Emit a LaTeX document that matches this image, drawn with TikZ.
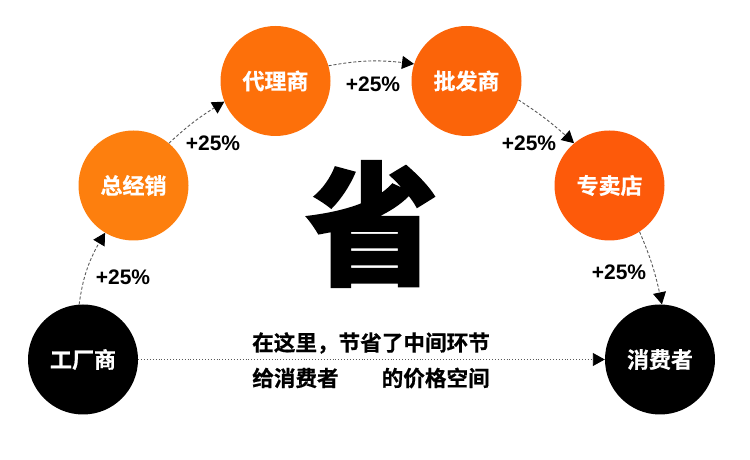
\documentclass[tikz,border=0pt]{standalone}
\usepackage{fontspec}
\usepackage{xcolor}
\usepackage{tikz}
\usetikzlibrary{arrows.meta}
\usetikzlibrary{bending}
\setmainfont{Liberation Sans}
\newfontfamily\cjkheavy{Noto Sans CJK SC Bold}[FakeBold=0.6]
\newfontfamily\cjkblack{Noto Sans CJK SC Black}[FakeBold=1.4]
\definecolor{orangea}{HTML}{FD7F0E}
\definecolor{orangeb}{HTML}{FD700A}
\definecolor{orangec}{HTML}{FB6409}
\definecolor{oranged}{HTML}{FD5A0A}
\tikzset{stage/.style={circle,minimum size=110pt,inner sep=0pt,text=white,font=\cjkheavy\fontsize{22}{22}\selectfont},
         link/.style={gray!70!black,densely dashed,line width=0.9pt,-{Triangle[black,length=12pt,width=13pt]}},
         rise/.style={font=\bfseries\fontsize{21}{21}\selectfont,text=black},
         saving/.style={font=\cjkheavy\fontsize{21.6}{21.6}\selectfont,text=black}}
\begin{document}
\begin{tikzpicture}[x=1pt,y=1pt]
            \useasboundingbox (0,0) rectangle (750,460);
            \node[stage,fill=black] (factory) at (83,100.5) {工厂商};
            \node[stage,fill=orangea] (general) at (133.5,274.5) {总经销};
            \node[stage,fill=orangeb] (agent) at (275.5,379) {代理商};
            \node[stage,fill=orangec] (wholesale) at (466.5,379) {批发商};
            \node[stage,fill=oranged] (shop) at (609.5,274.5) {专卖店};
            \node[stage,fill=black] (buyer) at (660,100.5) {消费者};
            \draw[link] (factory.94) to[bend left=12] (general.239);
            \draw[link] (general.50) to[bend left=6] (agent.202);
            \draw[link] (agent.16) to[bend left=9] (wholesale.162);
            \draw[link] (wholesale.-20) to[bend left=5] (shop.130);
            \draw[link] (shop.-57) to[bend left=6] (buyer.88);
            \draw[link,dotted] (factory.east) -- (buyer.west);
            \node[rise] (risea) at (123,183) {+25\%};
            \node[rise] (riseb) at (213,317) {+25\%};
            \node[rise] (risec) at (373,376) {+25\%};
            \node[rise] (rised) at (529,317) {+25\%};
            \node[rise] (risee) at (619,188) {+25\%};
            \node[font=\cjkblack\fontsize{133}{133}\selectfont] (save) at (372,236) {省};
            \node[saving] (lineone) at (371,117) {在这里，节省了中间环节};
            \node[saving] (linetwo) at (371,82) {给消费者\hspace{43pt}的价格空间};
\end{tikzpicture}
\end{document}
